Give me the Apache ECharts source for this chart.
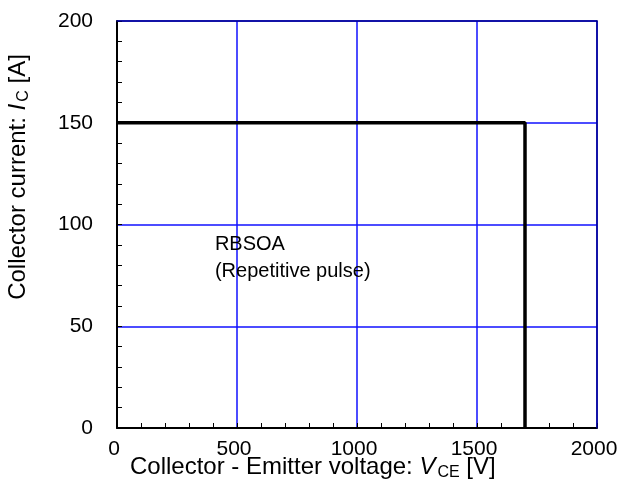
<!DOCTYPE html>
<html><head><meta charset="utf-8">
<script src="https://cdn.jsdelivr.net/npm/echarts@6/dist/echarts.min.js"></script>
<style>html,body{margin:0;padding:0;background:#fff}#c{width:618px;height:484px}</style>
</head><body><div id="c"></div>
<script>
var xTicks = [0, 500, 1000, 1500, 2000];
var yTicks = [0, 50, 100, 150, 200];
var rbsoaX = [0, 1700, 1700];
var rbsoaY = [150, 150, 0];
var noteX = [408];
var noteY = [83.5];
var noteText = ['RBSOA\n(Repetitive pulse)'];

var F = 'Liberation Sans, Arial, sans-serif';
var nameRich = {
  n: {fontFamily: F, fontSize: 24, fill: '#000', lineHeight: 26, verticalAlign: 'top'},
  i: {fontFamily: F, fontSize: 24, fill: '#000', fontStyle: 'italic', lineHeight: 26, verticalAlign: 'top'},
  s: {fontFamily: F, fontSize: 16, fill: '#000', lineHeight: 16, verticalAlign: 'top', padding: [10, 0, 0, 2]}
};
var gridBlue = '#1010ff';
var chart = echarts.init(document.getElementById('c'));
chart.setOption({
  animation: false,
  grid: {left: 117, right: 21, top: 21, bottom: 56, outerBoundsMode: 'none', containLabel: false},
  xAxis: [{
    type: 'value', min: xTicks[0], max: xTicks[xTicks.length-1], interval: 500,
    axisLine: {show: true, lineStyle: {color: '#000', width: 2}},
    axisTick: {show: true, inside: true, length: 5, lineStyle: {color: '#000'}},
    minorTick: {show: true, splitNumber: 5, length: 5, lineStyle: {color: '#000'}},
    splitLine: {show: true, lineStyle: {color: gridBlue, width: 1.5}},
    axisLabel: {fontFamily: F, fontSize: 21, color: '#000', margin: 11, padding: [0, 6, 0, 0],
      formatter: function(v){ return String(v); }}
  }, {
    type: 'value', position: 'top', min: xTicks[0], max: xTicks[xTicks.length-1], interval: 500,
    axisLine: {show: true, onZero: false, lineStyle: {color: '#00008b', width: 1.5}},
    axisTick: {show: false}, axisLabel: {show: false}, splitLine: {show: false}, z: 3
  }],
  yAxis: [{
    type: 'value', min: yTicks[0], max: yTicks[yTicks.length-1], interval: 50,
    axisLine: {show: true, lineStyle: {color: '#000', width: 2}},
    axisTick: {show: true, inside: true, length: 5, lineStyle: {color: '#000'}},
    minorTick: {show: true, splitNumber: 5, length: 5, lineStyle: {color: '#000'}},
    splitLine: {show: true, lineStyle: {color: gridBlue, width: 1.5}},
    axisLabel: {fontFamily: F, fontSize: 21, color: '#000', margin: 24}
  }, {
    type: 'value', position: 'right', min: yTicks[0], max: yTicks[yTicks.length-1], interval: 50,
    axisLine: {show: true, onZero: false, lineStyle: {color: '#00008b', width: 1.5}},
    axisTick: {show: false}, axisLabel: {show: false}, splitLine: {show: false}, z: 3
  }],
  graphic: [{
    type: 'text', left: 130, top: 455,
    style: {text: '{n|Collector - Emitter voltage: }{i|V}{s|CE}{n| [V]}', rich: nameRich}
  }, {
    type: 'text', x: 19, y: 177, rotation: Math.PI / 2,
    style: {text: '{n|Collector current: }{i|I}{s|C}{n| [A]}', rich: nameRich,
      align: 'center', verticalAlign: 'middle'}
  }],
  series: [{
    type: 'line', data: rbsoaX.map(function(x, i){ return [x, rbsoaY[i]]; }),
    symbol: 'none', lineStyle: {color: '#000', width: 3.5}, z: 5
  }, {
    type: 'scatter', symbolSize: 0, silent: true,
    itemStyle: {opacity: 1, color: '#000'},
    data: noteX.map(function(x, i){ return [x, noteY[i], noteText[i]]; }),
    label: {
      show: true, position: [0, 0], align: 'left', verticalAlign: 'middle',
      formatter: function(p){ return p.data[2]; },
      fontFamily: F, fontSize: 20, color: '#000', opacity: 1, lineHeight: 27
    }
  }]
});
</script></body></html>
